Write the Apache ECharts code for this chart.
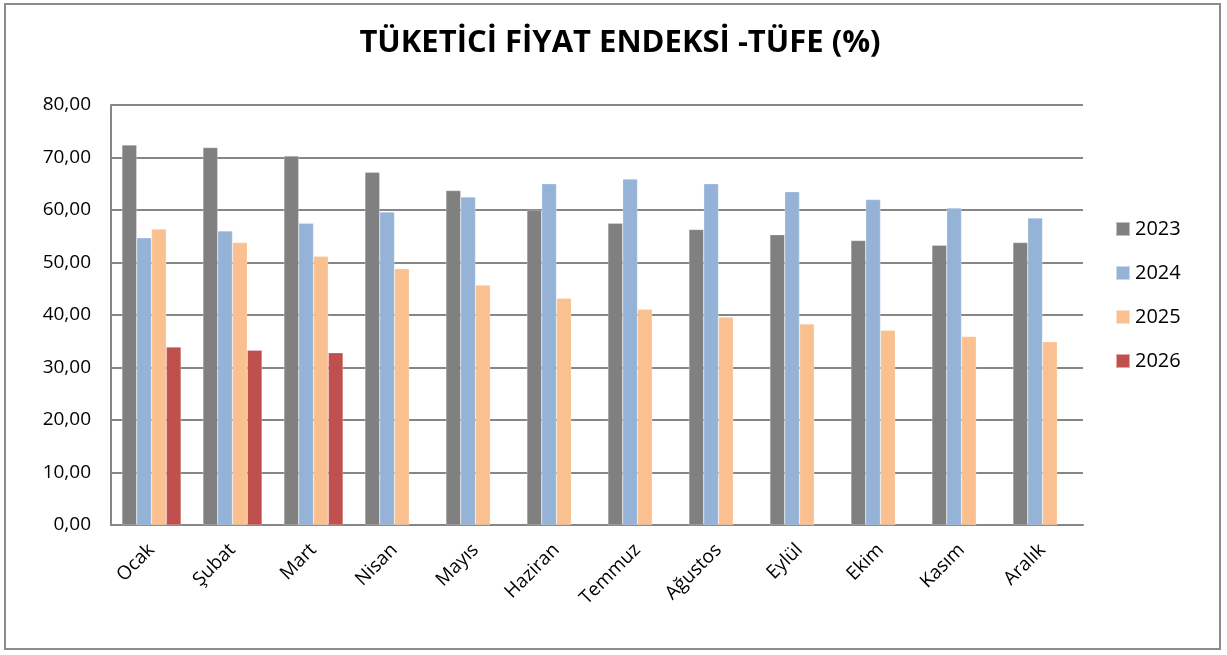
<!DOCTYPE html>
<html>
<head>
<meta charset="utf-8">
<script src="https://cdn.jsdelivr.net/npm/echarts@6/dist/echarts.min.js"></script>
<style>
html,body{margin:0;padding:0;background:#fff;}
#wrap{position:absolute;left:4px;top:3px;width:1217px;height:647px;border:2px solid #8c8c8c;box-sizing:border-box;}
#c{width:1227px;height:655px;position:absolute;left:0;top:0;}
</style>
</head>
<body>
<div id="wrap"></div>
<div id="c"></div>
<script>
const titleText = 'TÜKETİCİ FİYAT ENDEKSİ -TÜFE (%)';
const months = ['Ocak','Şubat','Mart','Nisan','Mayıs','Haziran','Temmuz','Ağustos','Eylül','Ekim','Kasım','Aralık'];
const seriesNames = ['2023','2024','2025','2026'];
const v2023 = [72.4,71.9,70.3,67.2,63.7,60.0,57.5,56.3,55.3,54.2,53.3,53.8];
const v2024 = [54.7,56.0,57.5,59.6,62.5,65.0,65.9,65.0,63.5,62.0,60.4,58.5];
const v2025 = [56.4,53.8,51.2,48.8,45.7,43.2,41.1,39.6,38.3,37.1,35.9,34.9];
const v2026 = [33.9,33.3,32.8,null,null,null,null,null,null,null,null,null];
const colors = ['#808080','#95B3D7','#FAC090','#C0504D'];
const yMin = 0, yMax = 80, yStep = 10;

const chart = echarts.init(document.getElementById('c'), null, {renderer:'canvas'});
const font = '"Open Sans", "Noto Sans", sans-serif';
const data = [v2023, v2024, v2025, v2026];
chart.setOption({
  animation:false,
  backgroundColor:'transparent',
  title:{text:titleText,left:615,top:23,textAlign:'center',
    textStyle:{fontFamily:font,fontSize:31,fontWeight:'bold',color:'#000'}},
  legend:{orient:'vertical',left:1110,top:214,itemWidth:14,itemHeight:14,itemGap:24,
    icon:'rect',textStyle:{fontFamily:font,fontSize:20,color:'#000'},data:seriesNames},
  grid:{left:111,top:105,width:972,height:420,containLabel:false},
  xAxis:{type:'category',data:months,
    axisLine:{show:true,lineStyle:{color:'#868686',width:2}},
    axisTick:{show:false},
    axisLabel:{rotate:45,fontFamily:font,fontSize:19,color:'#000',margin:22,interval:0}},
  yAxis:{type:'value',min:yMin,max:yMax,interval:yStep,
    axisLine:{show:true,lineStyle:{color:'#868686',width:2}},
    axisTick:{show:false},
    splitLine:{lineStyle:{color:'#868686',width:2}},
    axisLabel:{fontFamily:font,fontSize:19,color:'#000',margin:20,
      formatter:v=>v.toFixed(2).replace('.',',')}},
  series: seriesNames.map((n,i)=>({
    name:n,type:'bar',data:data[i],barGap:'0%',barCategoryGap:'27%',
    itemStyle:{color:colors[i],borderColor:'rgba(255,255,255,0.5)',borderWidth:0.5}
  }))
});
</script>
</body>
</html>
